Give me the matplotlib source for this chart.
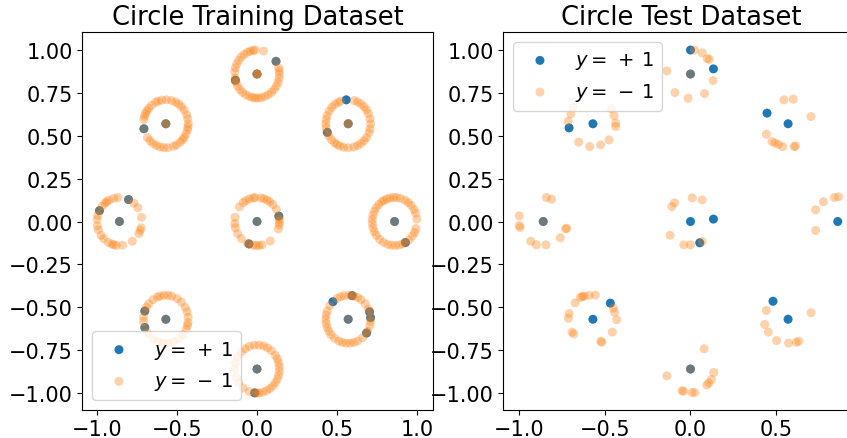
import numpy as np
import matplotlib
matplotlib.use("Agg")
import matplotlib.pyplot as plt

# ring centres (same for both datasets)
centers_x = [0.0, 0.57, 0.86, 0.57, 0.0, -0.57, -0.86, -0.57, 0.0]
centers_y = [0.86, 0.57, 0.0, -0.57, -0.86, -0.57, 0.0, 0.57, 0.0]
ring_r = 0.14

# training set: angles (deg) of the points on each ring
train_neg_angles = [
    [15, 8, 0, 350, 340, 330, 320, 310, 300, 290, 280, 272, 265, 258, 250, 240, 230,
     220, 210, 200, 195, 190, 175, 165, 155, 145, 135, 125, 115, 108, 100, 95, 73, 32],
    [0, 12, 25, 35, 45, 55, 65, 75, 110, 117, 127, 137, 148, 160, 170, 180, 190, 201,
     210, 222, 232, 240, 248, 258, 270, 285, 295, 305, 315, 325, 338, 348],
    [6, 20, 30, 42, 52, 62, 75, 85, 93, 102, 110, 118, 125, 135, 145, 155, 165, 175,
     185, 195, 205, 215, 228, 240, 252, 262, 272, 282, 292, 299, 310, 323, 333, 343],
    [4, 18, 25, 40, 55, 65, 75, 80, 88, 100, 110, 120, 145, 160, 170, 180, 190, 200,
     210, 220, 232, 245, 255, 265, 275, 285, 295, 310, 325, 330, 345, 355],
    [5, 15, 25, 35, 50, 62, 73, 85, 97, 110, 122, 135, 150, 165, 180, 200, 215, 232,
     250, 264, 270, 275, 285, 295, 305, 315, 325, 335, 345, 355],
    [5, 18, 30, 46, 60, 75, 84, 95, 105, 112, 125, 140, 150, 160, 175, 185, 200, 215,
     236, 250, 262, 275, 290, 305, 320, 335, 345, 352],
    [10, 35, 50, 66, 94, 105, 118, 125, 130, 140, 153, 165, 175, 190, 200, 215, 225,
     240, 250, 255, 262, 278, 305, 330, 338, 345],
    [0, 12, 22, 35, 45, 55, 64, 75, 88, 100, 110, 117, 130, 140, 148, 155, 162, 170,
     192, 215, 225, 235, 245, 255, 265, 275, 290, 298, 310, 318, 325, 335, 345, 352],
    [5, 13, 30, 45, 55, 63, 72, 80, 95, 100, 110, 120, 128, 142, 170, 185, 195, 210,
     225, 245, 249, 260, 268, 275, 283, 306, 342, 352, 358],
]
train_neg_center = [3, 2, 1, 1, 1, 1, 1, 2, 1]   # y=-1 points sitting on the centre
train_pos_angles = [[32, 195], [95, 201], [299], [133, 80, 18, 4, 325], [264],
                    [160, 200], [66, 153], [192], [13, 249]]

# test set: explicit coordinates
test_pos_x = [0.0, 0.0, 0.134, -0.57, -0.709, 0.57, 0.447, -0.86, 0.0, 0.134, 0.054,
              0.86, -0.57, -0.468, 0.57, 0.482, 0.0]
test_pos_y = [0.86, 1.0, 0.89, 0.57, 0.546, 0.57, 0.632, 0.0, 0.0, 0.014, -0.124,
              0.0, -0.57, -0.476, -0.57, -0.465, -0.86]
test_neg_x = [0.0, 0.023, 0.068, 0.097, 0.11, 0.132, 0.082, -0.014, -0.091, -0.138,
              -0.686, -0.699, -0.715, -0.653, -0.589, -0.525, -0.476, -0.437, -0.437, -0.447, -0.462,
              0.546, 0.6, 0.704, 0.605, 0.614, 0.538, 0.513, 0.494, 0.476, 0.443,
              -0.86, -0.842, -0.812, -1.0, -1.0, -0.995, -0.933, -0.9, -0.844, -0.76, -0.729, -0.723,
              0.01, 0.068, -0.109, -0.093, -0.119, -0.039, 0.0, 0.068,
              0.731, 0.776, 0.84, 0.865, 0.731,
              -0.674, -0.643, -0.632, -0.622, -0.593, -0.556, -0.709, -0.713, -0.692, -0.682,
              -0.523, -0.519, -0.457, -0.431, -0.443, -0.451,
              0.704, 0.443, 0.433, 0.455, 0.503, 0.573, 0.618, 0.632,
              0.0, 0.08, 0.136, 0.122, 0.107, 0.095, 0.008, 0.025, -0.05, -0.04, -0.138]
test_neg_y = [0.86, 1.0, 0.983, 0.95, 0.945, 0.822, 0.746, 0.719, 0.752, 0.878,
              0.667, 0.628, 0.585, 0.463, 0.437, 0.447, 0.476, 0.554, 0.574, 0.618, 0.657,
              0.709, 0.713, 0.612, 0.437, 0.44, 0.437, 0.449, 0.457, 0.466, 0.509,
              0.0, 0.14, 0.13, 0.033, -0.023, -0.035, -0.115, -0.136, -0.136, -0.095, -0.043, -0.039,
              0.138, 0.126, 0.087, 0.109, -0.08, -0.136, -0.136, -0.117,
              0.068, 0.115, 0.14, 0.144, -0.052,
              -0.474, -0.443, -0.437, -0.435, -0.431, -0.429, -0.536, -0.564, -0.645, -0.655,
              -0.698, -0.704, -0.645, -0.573, -0.529, -0.505,
              -0.532, -0.519, -0.6, -0.645, -0.694, -0.709, -0.704, -0.698,
              -0.86, -0.742, -0.88, -0.921, -0.942, -0.953, -0.997, -0.997, -0.987, -0.989, -0.9]


def ring_points(cx, cy, angles):
    a = np.radians(angles)
    return cx + ring_r * np.cos(a), cy + ring_r * np.sin(a)


# build training point lists
tr_pos_x, tr_pos_y, tr_neg_x, tr_neg_y = [], [], [], []
for k in range(len(centers_x)):
    cx, cy = centers_x[k], centers_y[k]
    tr_pos_x.append(cx)
    tr_pos_y.append(cy)
    px, py = ring_points(cx, cy, train_pos_angles[k])
    tr_pos_x += list(px)
    tr_pos_y += list(py)
    nx, ny = ring_points(cx, cy, train_neg_angles[k])
    tr_neg_x += list(nx) + [cx] * train_neg_center[k]
    tr_neg_y += list(ny) + [cy] * train_neg_center[k]

fig = plt.figure(figsize=(8.47, 4.39), dpi=100)
ax1 = fig.add_axes([82 / 847, 28 / 439, 351 / 847, 378 / 439])
ax2 = fig.add_axes([503 / 847, 28 / 439, 357 / 847, 378 / 439])

for ax, px, py, nx, ny, title, loc in [
        (ax1, tr_pos_x, tr_pos_y, tr_neg_x, tr_neg_y, "Circle Training Dataset", "lower left"),
        (ax2, test_pos_x, test_pos_y, test_neg_x, test_neg_y, "Circle Test Dataset", "upper left")]:
    ax.scatter(px, py, s=42, color="C0", edgecolors="none", label=r"$y =\,+\,1$")
    ax.scatter(nx, ny, s=42, color="C1", edgecolors="none", alpha=0.35,
               label=r"$y =\,-\,1$")
    ax.set_title(title, fontsize=18.5)
    ax.set_yticks(np.arange(-1.0, 1.01, 0.25))
    ax.set_xticks(np.arange(-1.0, 1.01, 0.5))
    ax.tick_params(labelsize=15, pad=3)
    ax.set_ylim(-1.099, 1.105)
    ax.legend(loc=loc, fontsize=14)

ax1.set_xlim(-1.094, 1.1)
ax2.set_xlim(-1.095, 0.99)

fig.savefig("out.png", dpi=100)
